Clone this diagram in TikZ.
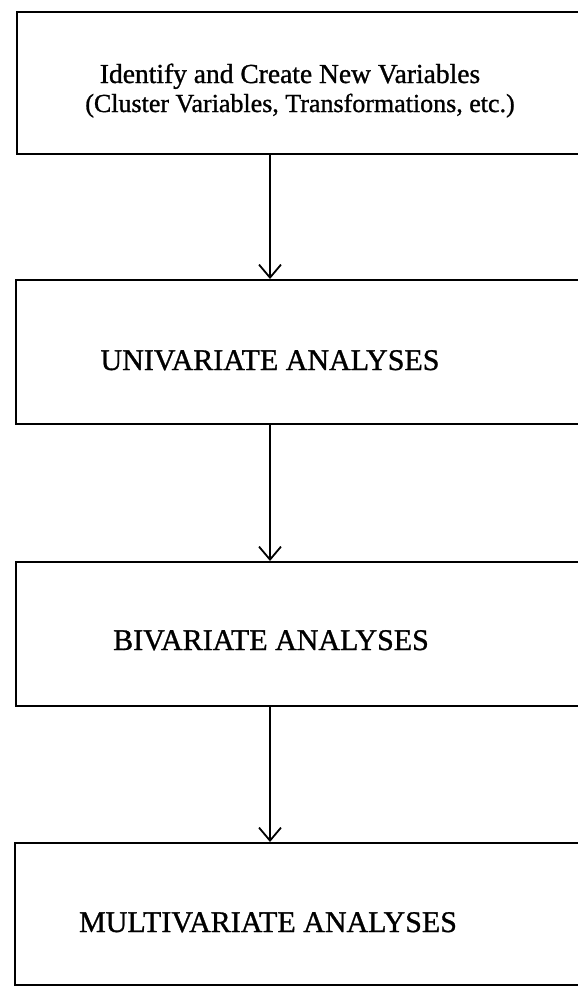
\documentclass[tikz,border=0pt]{standalone}
\usepackage{fontspec}
\setmainfont{Liberation Serif}[FakeBold=1]
\usetikzlibrary{arrows.meta}
\begin{document}
\begin{tikzpicture}[x=1pt,y=-1pt,
  stagebox/.style={draw,line width=2pt,rectangle,inner sep=0pt,anchor=north west},
  lbl/.style={inner sep=0pt,anchor=base},
  flow/.style={line width=2pt,-{Straight Barb[length=13pt,width=22pt,line width=1.8pt]}}]
\useasboundingbox (0,0) rectangle (578,986);
\clip (0,0) rectangle (578,986);
% stage boxes (they run past the right edge of the page)
\node[stagebox,minimum width=590pt,minimum height=142pt] (b1) at (16,11) {};
\node[stagebox,minimum width=590pt,minimum height=144pt] (b2) at (15,279) {};
\node[stagebox,minimum width=590pt,minimum height=144pt] (b3) at (15,561) {};
\node[stagebox,minimum width=590pt,minimum height=142pt] (b4) at (14,842) {};
% box texts
\node[lbl,font=\fontsize{27.5}{31}\selectfont] (t1a) at (290,83) {Identify and Create New Variables};
\node[lbl,font=\fontsize{26}{30}\selectfont] (t1b) at (300,112) {(Cluster Variables, Transformations, etc.)};
\node[lbl,font=\fontsize{30}{35}\selectfont] (t2) at (270,370) {UNIVARIATE ANALYSES};
\node[lbl,font=\fontsize{30}{35}\selectfont] (t3) at (271,650) {BIVARIATE ANALYSES};
\node[lbl,font=\fontsize{30}{35}\selectfont] (t4) at (268,932) {MULTIVARIATE ANALYSES};
% connectors
\coordinate (ax) at (270,0);
\draw[flow] (b1.south -| ax) -- (b2.north -| ax);
\draw[flow] (b2.south -| ax) -- (b3.north -| ax);
\draw[flow] (b3.south -| ax) -- (b4.north -| ax);
\end{tikzpicture}
\end{document}
